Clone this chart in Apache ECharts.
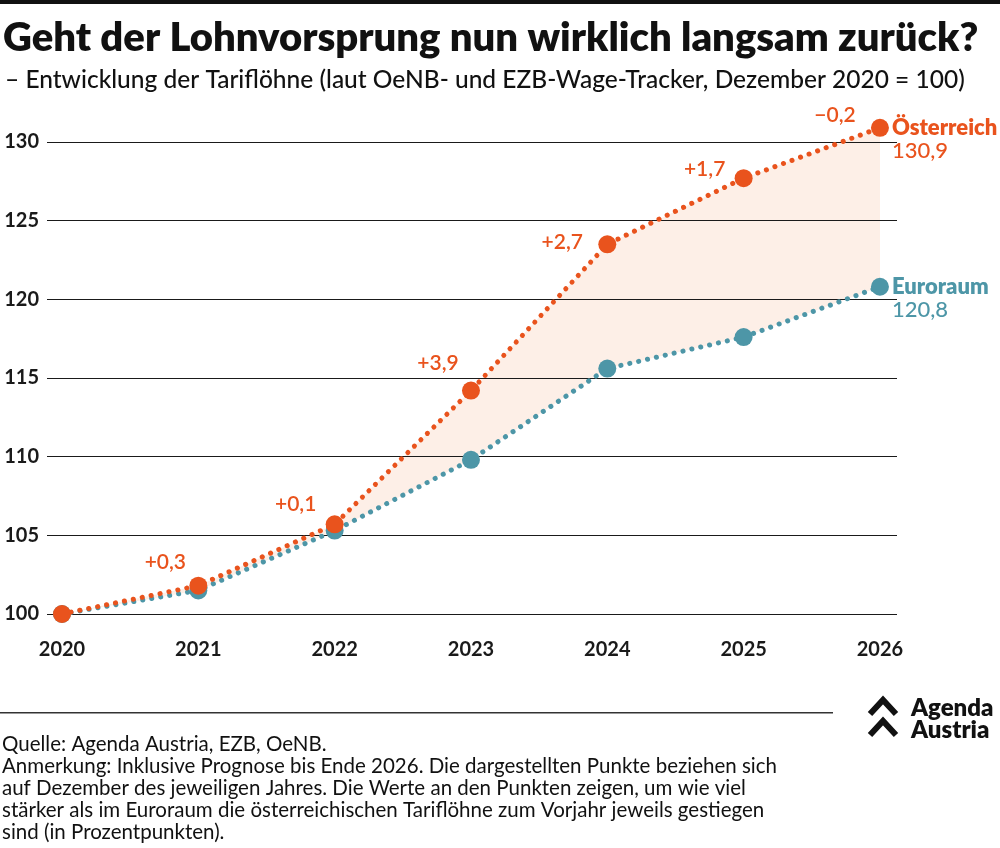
<!DOCTYPE html>
<html>
<head>
<meta charset="utf-8">
<script src="https://cdn.jsdelivr.net/npm/echarts@6/dist/echarts.min.js"></script>
<style>
  html, body { margin: 0; padding: 0; background: #fff; }
  #chart-container { width: 1000px; height: 848px; }
</style>
</head>
<body>
<div id="chart-container"></div>
<script>
var dom = document.getElementById("chart-container");
var myChart = echarts.init(dom, null, { renderer: "canvas" });

// Daten (Dezember 2020 = 100)
const years = [2020, 2021, 2022, 2023, 2024, 2025, 2026];
const austria = [100, 101.8, 105.7, 114.2, 123.5, 127.7, 130.9];
const euroArea = [100, 101.5, 105.3, 109.8, 115.6, 117.6, 120.8];
// Vorsprung in Prozentpunkten (ab 2021)
const gapLabels = ["", "+0,3", "+0,1", "+3,9", "+2,7", "+1,7", "\u22120,2"];
const yTicks = [100, 105, 110, 115, 120, 125, 130];

// Label-Versatz je Punkt (Pixel)
const labelOffsets = [
  [0, 0], [-33, -23], [-39, -20], [-33, -27], [-45, -2], [-39, -9], [-45, -13],
];

const ORANGE = "#e9531d";
const TEAL = "#4d96a7";
const FILL = "#fdefe7";
const FONT = "Lato";

const fmt = (v) => v.toFixed(1).replace(".", ",");

const atData = years.map((y, i) => {
  const item = { value: [y, austria[i]] };
  if (gapLabels[i]) {
    item.label = {
      show: true,
      position: "inside",
      offset: labelOffsets[i],
      formatter: gapLabels[i],
      color: ORANGE,
      fontSize: 21,
      fontWeight: 600,
      fontFamily: FONT,
    };
  }
  return item;
});

// Fläche zwischen den beiden Linien
function renderBand(params, api) {
  if (params.dataIndex !== 0) return;
  const pts = [];
  years.forEach((y, i) => pts.push(api.coord([y, austria[i]])));
  for (let i = years.length - 1; i >= 0; i--) pts.push(api.coord([years[i], euroArea[i]]));
  return { type: "polygon", shape: { points: pts }, style: { fill: FILL } };
}

var option = {
  animation: false,
  backgroundColor: "#fff",
  textStyle: { fontFamily: FONT },
  grid: { left: 47, right: 103, top: 142, bottom: 234 },
  xAxis: {
    type: "value",
    min: 2019.89,
    max: 2026.125,
    axisLine: { show: false },
    axisTick: { show: false },
    splitLine: { show: false },
    axisLabel: {
      customValues: years,
      formatter: (v) => String(v),
      color: "#1a1a1a",
      fontSize: 20,
      fontWeight: 700,
      fontFamily: FONT,
      margin: 26,
    },
  },
  yAxis: {
    type: "value",
    min: 100,
    max: 130,
    interval: 5,
    axisLine: { show: false },
    axisTick: { show: false },
    axisLabel: {
      customValues: yTicks,
      color: "#1a1a1a",
      fontSize: 20,
      fontWeight: 700,
      fontFamily: FONT,
      margin: 8,
    },
    splitLine: { lineStyle: { color: "#1a1a1a", width: 1 } },
  },
  graphic: [
    { type: "rect", left: 0, top: 0, shape: { width: 1000, height: 4 }, style: { fill: "#111" } },
    {
      type: "text", left: 3, top: 18,
      style: { text: "Geht der Lohnvorsprung nun wirklich langsam zurück?", fill: "#111",
        font: "800 40px " + FONT },
    },
    {
      type: "text", left: 5, top: 68,
      style: { text: "\u2013 Entwicklung der Tariflöhne (laut OeNB- und EZB-Wage-Tracker, Dezember 2020 = 100)",
        fill: "#111", font: "500 24.5px " + FONT },
    },
    { type: "rect", left: 0, top: 712, shape: { width: 833, height: 1.5 }, style: { fill: "#333" } },
    {
      type: "text", left: 2, top: 733,
      style: {
        text: "Quelle: Agenda Austria, EZB, OeNB.\nAnmerkung: Inklusive Prognose bis Ende 2026. Die dargestellten Punkte beziehen sich\nauf Dezember des jeweiligen Jahres. Die Werte an den Punkten zeigen, um wie viel\nstärker als im Euroraum die österreichischen Tariflöhne zum Vorjahr jeweils gestiegen\nsind (in Prozentpunkten).",
        fill: "#111", font: "400 20.5px " + FONT, lineHeight: 22,
      },
    },
    // Logo
    {
      type: "polyline", shape: { points: [[870, 714], [883, 700], [896, 714]] },
      style: { stroke: "#111", lineWidth: 6, fill: null },
    },
    {
      type: "polyline", shape: { points: [[870, 735], [883, 721], [896, 735]] },
      style: { stroke: "#111", lineWidth: 6, fill: null },
    },
    {
      type: "text", left: 911, top: 696,
      style: { text: "Agenda\nAustria", fill: "#111", font: "800 24px " + FONT, lineHeight: 22 },
    },
  ],
  series: [
    {
      name: "Abstand", type: "custom", silent: true, z: -1,
      renderItem: renderBand,
      encode: { x: 0, y: 1 },
      data: years.map((y, i) => [y, austria[i]]),
    },
    {
      name: "Euroraum", type: "line", clip: false,
      data: years.map((y, i) => [y, euroArea[i]]),
      symbol: "circle", symbolSize: 18,
      itemStyle: { color: TEAL },
      lineStyle: { color: TEAL, width: 5, type: [0.1, 9], cap: "round" },
      endLabel: {
        show: true, offset: [4, 12],
        formatter: (p) => "{n|Euroraum}\n{v|" + fmt(p.value[1]) + "}",
        rich: {
          n: { color: TEAL, fontSize: 22, fontWeight: 800, fontFamily: FONT, lineHeight: 23 },
          v: { color: TEAL, fontSize: 22, fontWeight: 500, fontFamily: FONT, lineHeight: 23 },
        },
      },
      z: 3,
    },
    {
      name: "Österreich", type: "line", clip: false,
      data: atData,
      symbol: "circle", symbolSize: 18,
      itemStyle: { color: ORANGE },
      lineStyle: { color: ORANGE, width: 5, type: [0.1, 9], cap: "round" },
      endLabel: {
        show: true, offset: [4, 12],
        formatter: (p) => "{n|Österreich}\n{v|" + fmt(p.value[1]) + "}",
        rich: {
          n: { color: ORANGE, fontSize: 22, fontWeight: 800, fontFamily: FONT, lineHeight: 23 },
          v: { color: ORANGE, fontSize: 22, fontWeight: 500, fontFamily: FONT, lineHeight: 23 },
        },
      },
      z: 4,
    },
  ],
};

myChart.setOption(option);
window.addEventListener("resize", myChart.resize);
</script>
</body>
</html>
